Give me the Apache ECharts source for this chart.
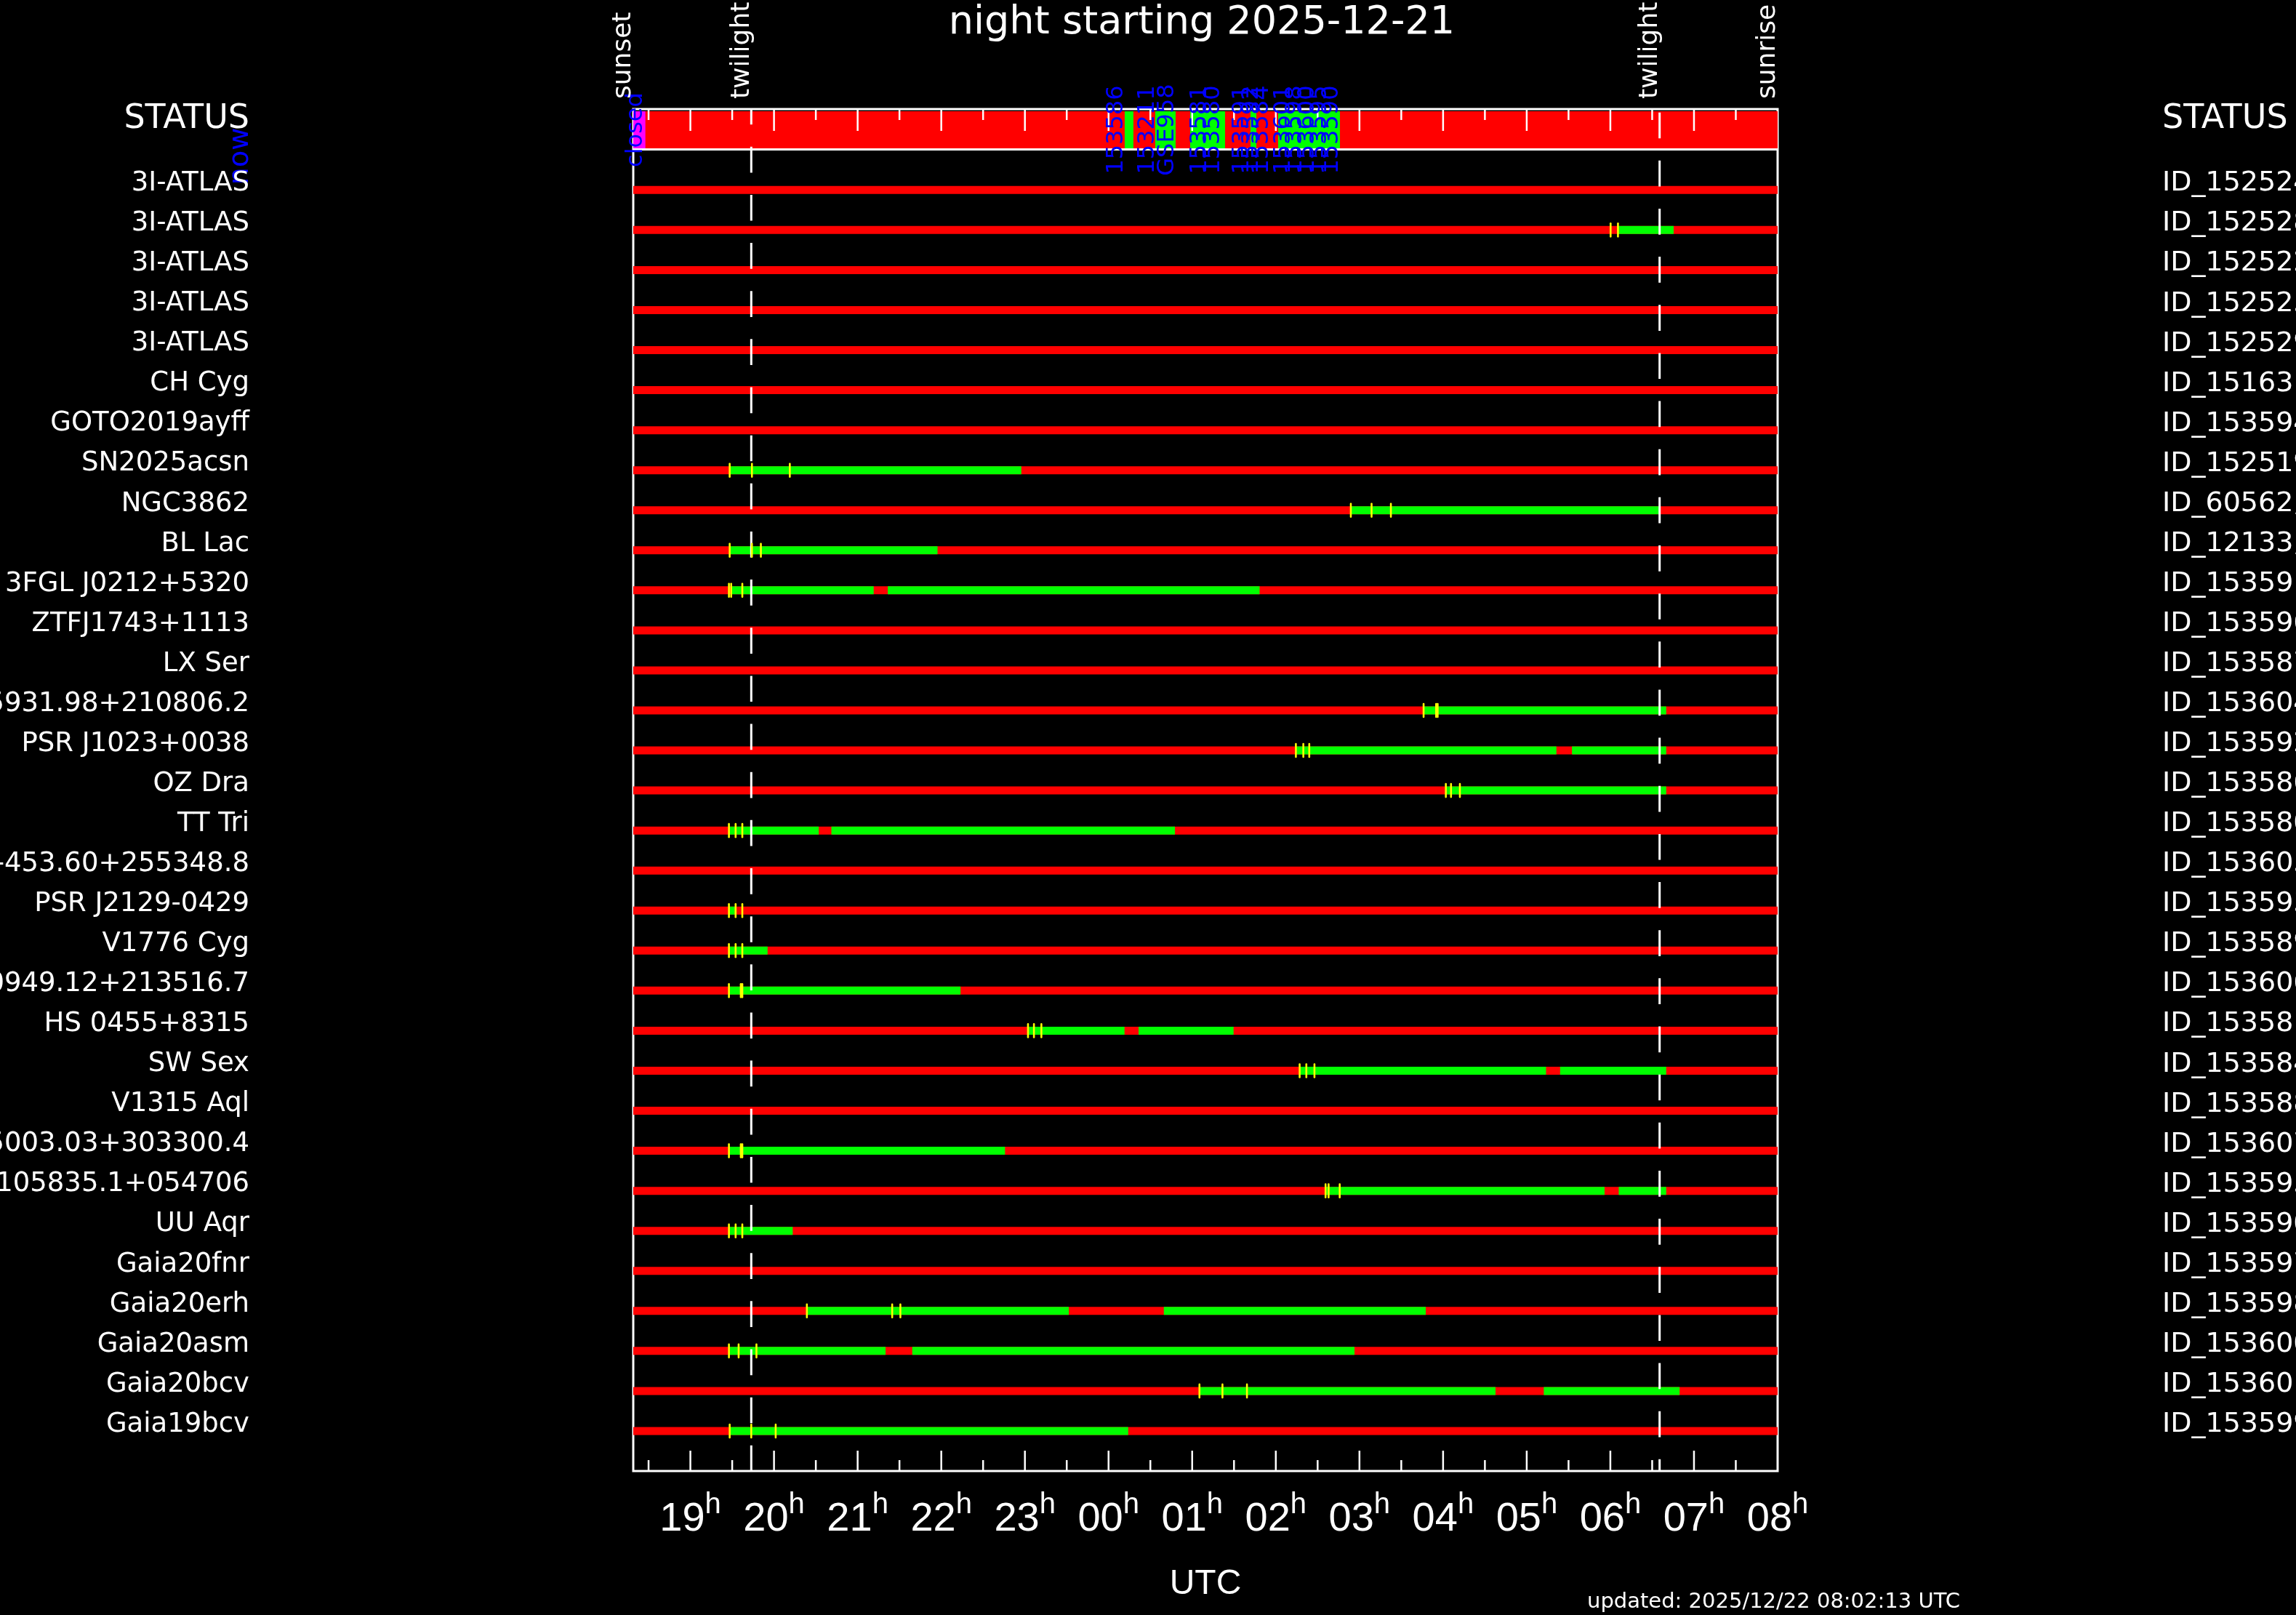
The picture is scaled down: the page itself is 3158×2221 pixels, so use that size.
<!DOCTYPE html>
<html><head><meta charset="utf-8">
<script src="https://cdn.jsdelivr.net/npm/echarts@6/dist/echarts.min.js"></script>
<style>html,body{margin:0;padding:0;background:#000;}#c{width:3158px;height:2221px;}</style>
</head><body><div id="c"></div>
<script>
// ---------------- data ----------------
const rowNames = ["3I-ATLAS","3I-ATLAS","3I-ATLAS","3I-ATLAS","3I-ATLAS","CH Cyg","GOTO2019ayff","SN2025acsn",
  "NGC3862","BL Lac","3FGL J0212+5320","ZTFJ1743+1113","LX Ser","5931.98+210806.2","PSR J1023+0038","OZ Dra",
  "TT Tri","-453.60+255348.8","PSR J2129-0429","V1776 Cyg","0949.12+213516.7","HS 0455+8315","SW Sex","V1315 Aql",
  "5003.03+303300.4","105835.1+054706","UU Aqr","Gaia20fnr","Gaia20erh","Gaia20asm","Gaia20bcv","Gaia19bcv"];
const rowIds = ["ID_152524","ID_152528","ID_152522","ID_152525","ID_152529","ID_151631","ID_153594","ID_152519",
  "ID_60562,","ID_12133,","ID_153591","ID_153596","ID_153587","ID_153604","ID_153592","ID_153586",
  "ID_153580","ID_153605","ID_153593","ID_153589","ID_153606","ID_153581","ID_153584","ID_153588",
  "ID_153607","ID_153595","ID_153590","ID_153597","ID_153598","ID_153600","ID_153601","ID_153599"];
// times in hours UTC (values above 24 belong to the next morning)
const sunset = 18.317, sunrise = 32.0;
const twilightEvening = 19.728, twilightMorning = 30.589;
const hourTicks = [19,20,21,22,23,24,25,26,27,28,29,30,31,32];
const halfHourTicks = [18.5,19.5,20.5,21.5,22.5,23.5,24.5,25.5,26.5,27.5,28.5,29.5,30.5,31.5];
// [row, start, end]
const greenSegments = [
  [2,30.091,30.757],[8,19.470,22.957],[9,26.897,30.588],[10,19.470,21.955],
  [11,19.488,21.192],[11,21.360,25.806],[14,27.767,30.668],[15,26.240,29.355],[15,29.541,30.668],
  [16,28.033,30.668],[17,19.461,20.535],[17,20.686,24.794],[19,19.461,19.532],[20,19.461,19.923],
  [21,19.461,22.230],[22,23.037,24.191],[22,24.359,25.495],[23,26.285,29.231],[23,29.399,30.668],
  [25,19.461,22.762],[26,26.595,29.931],[26,30.100,30.668],[27,19.461,20.224],
  [29,20.393,23.525],[29,24.661,27.793],[30,19.461,21.334],[30,21.653,26.941],
  [31,25.087,28.627],[31,29.204,30.828],[32,19.470,24.235]];
// [row, time]
const yellowMarks = [
  [2,30.003],[2,30.091],[8,19.470],[8,19.736],[8,20.189],[9,26.897],[9,27.145],[9,27.376],
  [10,19.470],[10,19.736],[10,19.843],[11,19.461],[11,19.488],[11,19.621],[14,27.767],[14,27.917],[14,27.935],
  [15,26.240],[15,26.329],[15,26.400],[16,28.033],[16,28.095],[16,28.201],[17,19.461],[17,19.541],[17,19.621],
  [19,19.461],[19,19.541],[19,19.621],[20,19.461],[20,19.541],[20,19.621],[21,19.461],[21,19.603],[21,19.621],
  [22,23.037],[22,23.108],[22,23.197],[23,26.285],[23,26.365],[23,26.462],[25,19.461],[25,19.603],[25,19.621],
  [26,26.595],[26,26.631],[26,26.764],[27,19.461],[27,19.541],[27,19.621],[29,20.393],[29,21.413],[29,21.511],
  [30,19.461],[30,19.577],[30,19.790],[31,25.087],[31,25.362],[31,25.655],[32,19.470],[32,19.728],[32,20.020]];
// summary bar
const summaryGreen = [[24.193,24.297],[24.558,24.802],[24.976,25.393],[25.697,25.767],[26.028,26.767]];
const summaryClosed = [[18.317,18.462]];
const summaryLabels = [[18.445,"closed"],[24.193,"153586"],[24.567,"153211"],[24.802,"GSE958"],[25.193,"153581"],
  [25.350,"153580"],[25.697,"153591"],[25.810,"153592"],[25.932,"153584"],[26.193,"153601"],[26.332,"153598"],
  [26.480,"153600"],[26.628,"153595"],[26.767,"153590"]];
const eventLabels = [[sunset,"sunset"],[twilightEvening,"twilight"],[twilightMorning,"twilight"],[sunrise,"sunrise"]];
const twilightLines = [twilightEvening, twilightMorning];

// ---------------- layout constants ----------------
const Y_MIN = -1.022, Y_MAX = 33.0;
const SUM_TOP = -0.967, SUM_BOTTOM = -0.041, SUM_LINE = -0.0136;
const BAR_H = 11;
const LABEL_LIFT = 0.16;
const DASH_PHASE = [14.4, 61.5];
const rows = rowNames.map((n, i) => i + 1);
const labelPositions = rows.map(r => r - LABEL_LIFT);
const pad2 = v => String(Math.round(v) % 24).padStart(2, '0');

const chart = echarts.init(document.getElementById('c'), null, {renderer: 'canvas'});
const option = {
  backgroundColor: '#000',
  animation: false,
  grid: {left: 871, right: 713, top: 150, bottom: 198, show: true, borderColor: '#fff', borderWidth: 3,
    backgroundColor: 'transparent', containLabel: false, outerBoundsMode: 'none'},
  xAxis: {
    type: 'value', min: sunset, max: sunrise,
    axisLine: {show: false}, axisTick: {show: false}, splitLine: {show: false},
    axisLabel: {
      customValues: hourTicks, margin: 27, color: '#fff',
      formatter: v => '{d|' + pad2(v) + '}{h|h}',
      rich: {
        d: {fontSize: 56, lineHeight: 80, fontFamily: 'Liberation Sans', color: '#fff'},
        h: {fontSize: 40, lineHeight: 34, verticalAlign: 'top', fontFamily: 'Liberation Sans', color: '#fff'}
      }
    },
    name: 'UTC', nameLocation: 'middle', nameGap: 132,
    nameTextStyle: {color: '#fff', fontSize: 48, fontFamily: 'Liberation Sans'}
  },
  yAxis: [{
    type: 'value', min: Y_MIN, max: Y_MAX, inverse: true,
    axisLine: {show: false}, axisTick: {show: false}, splitLine: {show: false},
    axisLabel: {customValues: labelPositions, formatter: v => rowNames[Math.round(v) - 1], margin: 528, color: '#fff',
      fontSize: 37, fontFamily: 'DejaVu Sans'}
  }, {
    type: 'value', position: 'right', min: Y_MIN, max: Y_MAX, inverse: true,
    axisLine: {show: false}, axisTick: {show: false}, splitLine: {show: false},
    axisLabel: {customValues: labelPositions, formatter: v => rowIds[Math.round(v) - 1], margin: 529, color: '#fff',
      fontSize: 38, fontFamily: 'DejaVu Sans'}
  }],
  series: [
    { // summary red band + closed + green
      type: 'custom', z: 2,
      data: [[sunset, sunrise, 0]].concat(summaryClosed.map(d => [d[0], d[1], 1]), summaryGreen.map(d => [d[0], d[1], 2])),
      renderItem(params, api) {
        const a = api.coord([api.value(0), SUM_TOP]);
        const b = api.coord([api.value(1), SUM_BOTTOM]);
        const kind = api.value(2);
        const fill = kind === 0 ? '#ff0000' : kind === 1 ? '#ff00ff' : '#00ff00';
        const children = [{type: 'rect', shape: {x: a[0], y: a[1], width: b[0] - a[0], height: b[1] - a[1]}, style: {fill}}];
        if (kind === 0) {
          const l = api.coord([api.value(1), SUM_LINE]);
          children.push({type: 'line', shape: {x1: a[0], y1: l[1], x2: l[0], y2: l[1]}, style: {stroke: '#fff', lineWidth: 3}});
        }
        return {type: 'group', children};
      }
    },
    { // red base bars
      type: 'custom', z: 3, data: rows.map(r => [r]),
      renderItem(params, api) {
        const r = api.value(0);
        const a = api.coord([sunset, r]), b = api.coord([sunrise, r]);
        return {type: 'rect', shape: {x: a[0], y: a[1] - BAR_H / 2, width: b[0] - a[0], height: BAR_H}, style: {fill: '#ff0000'}};
      }
    },
    { // green segments
      type: 'custom', z: 4, data: greenSegments, encode: {x: [1, 2], y: 0},
      renderItem(params, api) {
        const r = api.value(0);
        const a = api.coord([api.value(1), r]), b = api.coord([api.value(2), r]);
        return {type: 'rect', shape: {x: a[0], y: a[1] - BAR_H / 2, width: b[0] - a[0], height: BAR_H}, style: {fill: '#00ff00'}};
      }
    },
    { // ticks top and bottom
      type: 'custom', z: 5,
      data: hourTicks.filter(t => t < sunrise).map(t => [t, 1]).concat(halfHourTicks.map(t => [t, 0])),
      renderItem(params, api) {
        const t = api.value(0), major = api.value(1) === 1;
        const top = api.coord([t, Y_MIN]), bot = api.coord([t, Y_MAX]);
        const lt = major ? 30 : 15, lb = major ? 28 : 15;
        return {type: 'group', children: [
          {type: 'line', shape: {x1: top[0], y1: top[1], x2: top[0], y2: top[1] + lt}, style: {stroke: '#fff', lineWidth: 2.5}},
          {type: 'line', shape: {x1: bot[0], y1: bot[1], x2: bot[0], y2: bot[1] - lb}, style: {stroke: '#fff', lineWidth: 2.5}}
        ]};
      }
    },
    { // dashed twilight lines
      type: 'custom', z: 6, data: twilightLines.map(t => [t]),
      renderItem(params, api) {
        const t = api.value(0);
        const top = api.coord([t, Y_MIN]), bot = api.coord([t, Y_MAX]);
        return {type: 'line', shape: {x1: top[0], y1: top[1], x2: bot[0], y2: bot[1]},
          style: {stroke: '#fff', lineWidth: 3, lineDash: [35.7, 30.45], lineDashOffset: DASH_PHASE[params.dataIndex]}};
      }
    },
    { // yellow marks
      type: 'custom', z: 7, data: yellowMarks, encode: {x: 1, y: 0},
      renderItem(params, api) {
        const p = api.coord([api.value(1), api.value(0)]);
        return {type: 'line', shape: {x1: p[0], y1: p[1] - 9, x2: p[0], y2: p[1] + 9},
          style: {stroke: '#ffff00', lineWidth: 2.6, lineCap: 'round'}};
      }
    },
    { // summary labels (blue, rotated)
      type: 'custom', z: 8, data: summaryLabels.map(d => [d[0]]),
      renderItem(params, api) {
        const d = summaryLabels[params.dataIndex];
        const p = api.coord([d[0], (SUM_TOP + SUM_BOTTOM) / 2]);
        return {type: 'text', x: p[0] - 11.5, y: p[1], rotation: Math.PI / 2,
          style: {text: d[1], fill: '#0000ff', font: '32px "DejaVu Sans"', align: 'center', verticalAlign: 'middle'}};
      }
    },
    { // event labels (white, rotated)
      type: 'custom', z: 9, data: eventLabels.map(d => [d[0]]),
      renderItem(params, api) {
        const d = eventLabels[params.dataIndex];
        const p = api.coord([d[0], Y_MIN]);
        return {type: 'text', x: p[0] - 13, y: 136, rotation: Math.PI / 2,
          style: {text: d[1], fill: '#fff', font: '36px "DejaVu Sans"', align: 'left', verticalAlign: 'middle'}};
      }
    }
  ],
  graphic: [
    {type: 'text', x: 1653, y: 32, style: {text: 'night starting 2025-12-21', fill: '#fff', font: '54px "DejaVu Sans"', align: 'center', verticalAlign: 'middle'}},
    {type: 'text', x: 343, y: 164, style: {text: 'STATUS', fill: '#fff', font: '46px "DejaVu Sans"', align: 'right', verticalAlign: 'middle'}},
    {type: 'text', x: 2974, y: 164, style: {text: 'STATUS', fill: '#fff', font: '46px "DejaVu Sans"', align: 'left', verticalAlign: 'middle'}},
    {type: 'text', x: 331, y: 215, rotation: Math.PI / 2, style: {text: 'now', fill: '#0000ff', font: '38px "DejaVu Sans"', align: 'center', verticalAlign: 'middle'}},
    {type: 'text', x: 2183, y: 2203, style: {text: 'updated: 2025/12/22 08:02:13 UTC', fill: '#fff', font: '29px "DejaVu Sans"', align: 'left', verticalAlign: 'middle'}}
  ]
};
chart.setOption(option);
</script>
</body></html>
